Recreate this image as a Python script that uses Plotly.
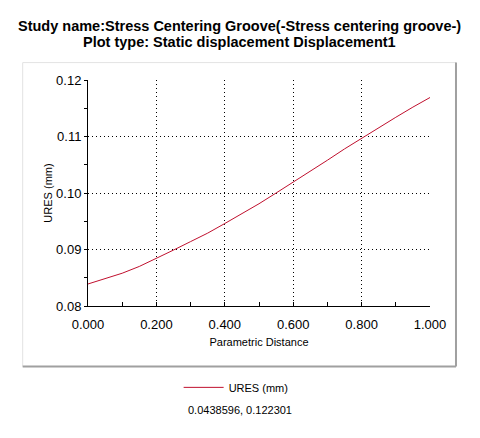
import plotly.graph_objects as go

# parametric distance along the probe path and the resultant displacement
distance = [0.0, 0.05, 0.1, 0.15, 0.2, 0.25, 0.3, 0.35, 0.4, 0.45, 0.5,
            0.55, 0.6, 0.65, 0.7, 0.75, 0.8, 0.85, 0.9, 0.95, 1.0]
ures_mm = [0.0839, 0.0848, 0.0858, 0.0870, 0.0884, 0.0899, 0.0914, 0.0929, 0.0946, 0.0963, 0.0981,
           0.1000, 0.1019, 0.1038, 0.1058, 0.1078, 0.1097, 0.1116, 0.1134, 0.1152, 0.1169]

x_ticks = [0.0, 0.2, 0.4, 0.6, 0.8, 1.0]
x_labels = ["0.000", "0.200", "0.400", "0.600", "0.800", "1.000"]
y_ticks = [0.08, 0.09, 0.10, 0.11, 0.12]
y_labels = ["0.08", "0.09", "0.10", "0.11", "0.12"]

title_lines = ["Study name:Stress Centering Groove(-Stress centering groove-)",
               "Plot type: Static displacement Displacement1"]
cursor_text = "0.0438596, 0.122301"

FONT = "Arial, 'Liberation Sans', sans-serif"

fig = go.Figure()
fig.add_trace(go.Scatter(
    x=distance, y=ures_mm, mode="lines", name="URES (mm)",
    line=dict(color="#c0102e", width=1),
))

axis_common = dict(
    showline=True, linecolor="black", linewidth=1,
    showgrid=True, gridcolor="black", gridwidth=1, griddash="1px,3px",
    zeroline=False, tickcolor="black",
    tickfont=dict(family=FONT, size=13, color="black"),
    title_font=dict(family=FONT, size=11, color="black"),
)

fig.update_xaxes(
    range=[0, 1], tickvals=x_ticks, ticktext=x_labels,
    ticks="inside", ticklen=4, ticklabelstandoff=6,
    minor=dict(dtick=0.1, ticks="inside", ticklen=4, tickcolor="black", showgrid=False),
    title_text="Parametric Distance", title_standoff=7,
    **axis_common,
)
fig.update_yaxes(
    range=[0.08, 0.12], tickvals=y_ticks, ticktext=y_labels,
    ticks="outside", ticklen=3,
    minor=dict(dtick=0.005, ticks="outside", ticklen=3, tickcolor="black", showgrid=False),
    **axis_common,
)

# second, tick-only y axis so the minor ticks cross the axis line
fig.update_layout(yaxis2=dict(
    overlaying="y", anchor="x", side="left", range=[0.08, 0.12],
    tickmode="linear", tick0=0.08, dtick=0.01, ticks="", showticklabels=False,
    showgrid=False, showline=False, zeroline=False,
    minor=dict(dtick=0.005, ticks="inside", ticklen=3, tickcolor="black", showgrid=False),
))

# panel frame around the plot (light top/left, shaded bottom/right)
px0, px1, py0, py1 = -0.191, 1.076, -0.268, 1.077
fig.add_shape(type="line", xref="paper", yref="paper", x0=px0, x1=px1, y0=py1, y1=py1,
              line=dict(color="#e3e3e3", width=1))
fig.add_shape(type="line", xref="paper", yref="paper", x0=px0, x1=px0, y0=py0, y1=py1,
              line=dict(color="#e3e3e3", width=1))
fig.add_shape(type="line", xref="paper", yref="paper", x0=px1, x1=px1, y0=py0, y1=py1,
              line=dict(color="#a0a0a0", width=2))
fig.add_shape(type="line", xref="paper", yref="paper", x0=px0, x1=px1, y0=py0, y1=py0,
              line=dict(color="#a0a0a0", width=2))

for text, ypos in zip(title_lines, [1.241, 1.166]):
    fig.add_annotation(text=f"<b>{text}</b>", xref="paper", yref="paper", x=0.444, y=ypos,
                       showarrow=False, xanchor="center", yanchor="middle",
                       font=dict(family=FONT, size=14.5, color="black"))

fig.add_annotation(text="URES (mm)", xref="paper", yref="paper", x=-0.118, y=0.5,
                   textangle=-90, showarrow=False, xanchor="center", yanchor="middle",
                   xshift=0, font=dict(family=FONT, size=11, color="black"))

fig.add_annotation(text=cursor_text, xref="paper", yref="paper", x=0.444, y=-0.462,
                   showarrow=False, xanchor="center", yanchor="middle",
                   font=dict(family=FONT, size=11, color="black"))

# the page body adds an 8px offset, so the figure is 8px smaller and margins shifted
fig.update_layout(
    width=472, height=430,
    margin=dict(l=80, r=50, t=72, b=132),
    paper_bgcolor="white", plot_bgcolor="white",
    showlegend=True,
    legend=dict(x=0.265, y=-0.36, xanchor="left", yanchor="middle",
                orientation="h", bgcolor="rgba(0,0,0,0)", itemwidth=40,
                font=dict(family=FONT, size=11, color="black")),
)

fig.write_html("out.html")
